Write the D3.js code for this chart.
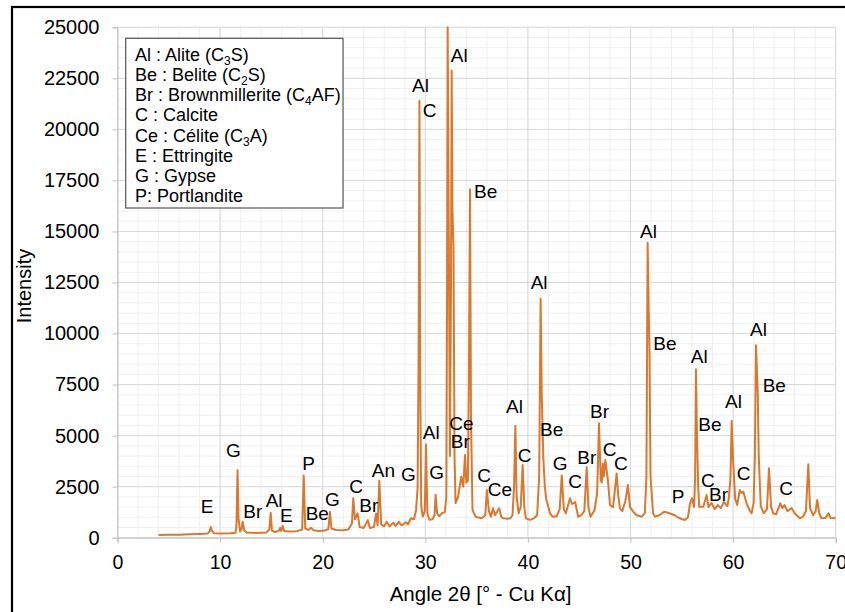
<!DOCTYPE html>
<html>
<head>
<meta charset="utf-8">
<script src="https://cdn.jsdelivr.net/npm/d3@7"></script>
<style>
  body { margin: 0; background: #fff; }
  svg { font-family: "Liberation Sans", Arial, sans-serif; }
</style>
</head>
<body>
<div id="plot"></div>
<script>
// XRD pattern: angle 2θ (°) and intensity (counts)
const angles = [
  4.0, 5.0, 6.0, 7.0, 8.0, 8.8, 9.0, 9.1, 9.2, 9.4, 10.0, 11.0, 11.5, 11.6, 11.7, 11.8, 11.95,
  12.1, 12.2, 12.35, 12.6, 13.5, 14.5, 14.8, 14.93, 15.05, 15.3, 15.7, 15.85, 15.95, 16.1, 16.25,
  16.8, 17.5, 18.0, 18.15, 18.3, 18.6, 18.85, 19.1, 19.6, 20.2, 20.55, 20.71, 20.85, 21.3, 22.0,
  22.5, 22.85, 22.98, 23.15, 23.4, 23.6, 24.0, 24.4, 24.6, 25.0, 25.2, 25.35, 25.52, 25.7, 26.0,
  26.24, 26.5, 26.9, 27.1, 27.4, 27.7, 28.1, 28.3, 28.6, 28.9, 29.1, 29.25, 29.35, 29.43, 29.5,
  29.6, 29.75, 29.95, 30.07, 30.2, 30.4, 30.7, 30.9, 31.01, 31.15, 31.35, 31.6, 31.9, 32.05, 32.12,
  32.18, 32.3, 32.4, 32.5, 32.57, 32.65, 32.75, 32.85, 32.95, 33.2, 33.5, 33.7, 33.87, 34.0, 34.15,
  34.25, 34.36, 34.45, 34.6, 34.9, 35.5, 35.85, 36.0, 36.2, 36.4, 36.6, 36.8, 37.2, 37.4, 37.6,
  38.0, 38.3, 38.5, 38.65, 38.78, 38.9, 39.1, 39.3, 39.49, 39.65, 39.8, 40.2, 40.6, 40.9, 41.1,
  41.24, 41.35, 41.5, 41.65, 41.8, 41.95, 42.15, 42.4, 42.8, 43.1, 43.3, 43.5, 43.7, 44.1, 44.3,
  44.6, 44.9, 45.2, 45.5, 45.73, 45.9, 46.1, 46.5, 46.75, 46.93, 47.1, 47.2, 47.3, 47.4, 47.55,
  47.8, 48.0, 48.3, 48.65, 48.8, 48.97, 49.2, 49.5, 49.75, 49.95, 50.3, 50.6, 51.1, 51.4, 51.55,
  51.67, 51.78, 51.85, 51.95, 52.2, 52.4, 52.8, 53.3, 53.8, 54.3, 54.8, 55.3, 55.6, 55.8, 56.0,
  56.2, 56.3, 56.38, 56.48, 56.6, 56.7, 57.1, 57.42, 57.6, 57.9, 58.2, 58.5, 58.8, 59.1, 59.45,
  59.6, 59.75, 59.86, 60.0, 60.2, 60.4, 60.65, 60.8, 61.0, 61.3, 61.6, 61.8, 62.0, 62.12, 62.23,
  62.4, 62.5, 62.7, 63.0, 63.3, 63.5, 63.7, 63.9, 64.2, 64.6, 64.8, 65.0, 65.3, 65.7, 66.0, 66.5,
  66.8, 67.1, 67.33, 67.5, 67.8, 68.05, 68.2, 68.4, 68.6, 69.0, 69.3, 69.5, 69.9, 70.0
];
const intensity = [
  130, 140, 150, 165, 180, 200, 330, 520, 350, 220, 210, 220, 240, 700, 3300, 900, 300,
  450, 780, 350, 250, 230, 250, 400, 1220, 350, 280, 330, 480, 330, 590, 330,
  300, 320, 400, 3050, 450, 380, 490, 370, 330, 350, 420, 1270, 450, 380, 370,
  400, 700, 1930, 900, 1190, 520, 480, 860, 480, 520, 1190, 600, 2790, 650, 560,
  780, 560, 730, 570, 780, 600, 760, 650, 950, 900, 1360, 2420, 9000, 21400, 8000,
  1600, 1030, 1300, 4560, 1200, 880, 900, 1100, 2100, 1200, 1050, 1190, 1250, 2000, 12000,
  25000, 14000, 4000, 12000, 22880, 16000, 14200, 4000, 1700, 2000, 2990, 2500, 4050, 2700, 2800,
  8000, 17070, 6000, 1360, 1030, 950, 1100, 2340, 1300, 1030, 1440, 1100, 1440, 1030, 950,
  930, 950, 1100, 2500, 5470, 2000, 1200, 1500, 3560, 1500, 950, 870, 950, 1100, 3000,
  11700, 7000, 3950, 2500, 1850, 1600, 1195, 1030, 1050, 1400, 3050, 1400, 1195, 1930, 1650,
  1750, 1030, 1100, 1300, 3450, 1500, 1030, 1350, 2200, 5600, 2830, 2700, 3640, 3000, 3800,
  2800, 1600, 1500, 3150, 2100, 1440, 1300, 1800, 2580, 1500, 1250, 1100, 1030, 1200, 3000,
  14450, 11000, 9200, 3000, 1195, 1030, 1100, 1275, 1200, 1100, 950, 870, 1000, 1685, 1930,
  1500, 3000, 8250, 5000, 2500, 1520, 1520, 2090, 1500, 1700, 1400, 1600, 1450, 1750, 1550,
  2010, 3000, 5730, 3800, 1900, 1600, 2340, 2200, 2250, 1700, 1350, 1200, 1700, 4000, 9430,
  7150, 3970, 1520, 1200, 1400, 3400, 1520, 1200, 1150, 1685, 1450, 1600, 1300, 1450, 1200, 950,
  1030, 1300, 3600, 1450, 1100, 1300, 1850, 1200, 950, 960, 1200, 960, 950, 1000
];

// peak labels: phase code, angle and intensity where the label sits
const peakCodes = ["E","G","Br","Al","E","P","Be","G","C","Br","An","G","Al","G","Al","C","Al","Be",
  "Al","Al","Ce","Br","C","Ce","Al","C","Be","G","C","Br","Br","C","C","Be","P","Al","Be","C","Br",
  "Al","C","Al","Be","C"];
const peakAngles = [8.11, 10.57, 12.26, 14.44, 15.84, 18.01, 18.34, 20.22, 22.59, 23.57, 24.78, 27.63,
  29.75, 30.39, 28.70, 29.75, 32.48, 34.75, 40.27, 50.93, 32.34, 32.48, 35.07, 36.08, 37.87, 39.01,
  41.18, 42.42, 43.94, 44.81, 46.05, 47.29, 48.39, 52.22, 54.02, 55.87, 56.61, 56.87, 57.65, 59.21,
  60.35, 61.65, 62.88, 64.50];
const peakLevels = [1195, 3938, 950, 1518, 784, 3316, 867, 1553, 2204, 1273, 2958, 2792,
  4820, 2860, 21845, 20620, 23285, 16625, 12167, 14665, 5275, 4379, 2743, 2057, 6093, 3722,
  4996, 3316, 2449, 3595, 5878, 4016, 3316, 9194, 1714, 8542, 5241, 2498, 1798, 6338,
  2826, 9879, 7151, 2091];

// legend lines: text, subscript, rest
const legendRows = [
  ["Al : Alite (C", "3", "S)"],
  ["Be : Belite (C", "2", "S)"],
  ["Br : Brownmillerite (C", "4", "AF)"],
  ["C : Calcite", "", ""],
  ["Ce : Célite (C", "3", "A)"],
  ["E : Ettringite", "", ""],
  ["G : Gypse", "", ""],
  ["P: Portlandite", "", ""]
];

const xTicks = d3.range(0, 71, 10);
const yTicks = d3.range(0, 25001, 2500);

const width = 845, height = 612;
const mLeft = 117.5, mRight = 835.7, mTop = 27.3, mBottom = 537.7;

const svg = d3.select("#plot").append("svg")
  .attr("width", width)
  .attr("height", height);

// outer frame
svg.append("rect")
  .attr("x", 12).attr("y", 7)
  .attr("width", 900).attr("height", 700)
  .attr("fill", "none")
  .attr("stroke", "#000")
  .attr("stroke-width", 2.2);

const x = d3.scaleLinear().domain([0, 70]).range([mLeft, mRight]);
const y = d3.scaleLinear().domain([0, 25000]).range([mBottom, mTop]);

// grid
const grid = svg.append("g");
grid.selectAll(".vminor").data(d3.range(0, 71, 2)).join("line")
  .attr("x1", d => x(d)).attr("x2", d => x(d))
  .attr("y1", mTop).attr("y2", mBottom)
  .attr("stroke", "#efefef");
grid.selectAll(".hminor").data(d3.range(0, 25001, 500)).join("line")
  .attr("x1", mLeft).attr("x2", mRight)
  .attr("y1", d => y(d)).attr("y2", d => y(d))
  .attr("stroke", "#efefef");
grid.selectAll(".vmajor").data(xTicks).join("line")
  .attr("x1", d => x(d)).attr("x2", d => x(d))
  .attr("y1", mTop).attr("y2", mBottom)
  .attr("stroke", "#d9d9d9");
grid.selectAll(".hmajor").data(yTicks).join("line")
  .attr("x1", mLeft).attr("x2", mRight)
  .attr("y1", d => y(d)).attr("y2", d => y(d))
  .attr("stroke", "#d9d9d9");

// axes
const xAxis = svg.append("g")
  .attr("transform", `translate(0,${mBottom})`)
  .call(d3.axisBottom(x).tickValues(xTicks).tickSize(5).tickPadding(12).tickFormat(d3.format("d")));
const yAxis = svg.append("g")
  .attr("transform", `translate(${mLeft},0)`)
  .call(d3.axisLeft(y).tickValues(yTicks).tickSize(5).tickPadding(13).tickFormat(d3.format("d")));
[xAxis, yAxis].forEach(g => {
  g.select(".domain").attr("stroke", "#bfbfbf");
  g.selectAll(".tick line").attr("stroke", "#bfbfbf");
  g.selectAll("text").attr("fill", "#000")
    .style("font-family", "'Liberation Sans', Arial, sans-serif");
});
xAxis.selectAll("text").style("font-size", "19.5px");
yAxis.selectAll("text").style("font-size", "20px");

// axis titles
svg.append("text")
  .attr("x", (mLeft + mRight) / 2 + 4).attr("y", 601)
  .attr("text-anchor", "middle")
  .style("font-size", "20.5px")
  .text("Angle 2θ [° - Cu Kα]");
svg.append("text")
  .attr("transform", "translate(31,286) rotate(-90)")
  .attr("text-anchor", "middle")
  .style("font-size", "20px")
  .text("Intensity");

// pattern
const points = angles.map((a, i) => [a, intensity[i]]);
svg.append("clipPath").attr("id", "clip")
  .append("rect").attr("x", mLeft).attr("y", mTop - 1)
  .attr("width", mRight - mLeft).attr("height", mBottom - mTop + 1);
svg.append("path")
  .datum(points)
  .attr("clip-path", "url(#clip)")
  .attr("d", d3.line().x(d => x(d[0])).y(d => y(d[1])))
  .attr("fill", "none")
  .attr("stroke", "#d9782f")
  .attr("stroke-width", 2)
  .attr("stroke-linejoin", "round");

// peak labels
svg.append("g").selectAll("text")
  .data(peakCodes)
  .join("text")
  .attr("x", (d, i) => x(peakAngles[i]))
  .attr("y", (d, i) => y(peakLevels[i]))
  .style("font-size", "19px")
  .text(d => d);

// legend box
const lg = svg.append("g");
lg.append("rect")
  .attr("x", 125.7).attr("y", 38.3)
  .attr("width", 217.3).attr("height", 169.7)
  .attr("fill", "#fff")
  .attr("stroke", "#555")
  .attr("stroke-width", 1.2);
const rows = lg.selectAll("text").data(legendRows).join("text")
  .attr("x", 135)
  .attr("y", (d, i) => 60.7 + i * 20.25)
  .style("font-size", "18px");
rows.append("tspan").text(d => d[0]);
rows.append("tspan").attr("baseline-shift", "-4").style("font-size", "12px").text(d => d[1]);
rows.append("tspan").text(d => d[2]);
</script>
</body>
</html>
